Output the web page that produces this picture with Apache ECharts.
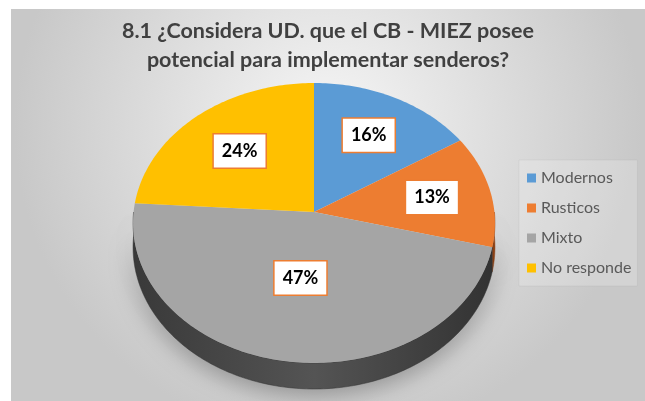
<!DOCTYPE html>
<html>
<head>
<meta charset="utf-8">
<script src="https://cdn.jsdelivr.net/npm/echarts@6/dist/echarts.min.js"></script>
<style>
  html, body { margin: 0; padding: 0; background: #fff; }
  #chart { width: 645px; height: 401px; }
</style>
</head>
<body>
<div id="chart"></div>
<script>
    // datos del grafico
    const categories = ['Modernos', 'Rusticos', 'Mixto', 'No responde'];
    const values = [16, 13, 47, 24];
    const colors = ['#5B9BD5', '#ED7D31', '#A5A5A5', '#FFC000'];
    const sideColors = [
        ['#2F6A9E', '#3F7DB5', '#2A6090'],
        ['#96461A', '#B0561F', '#8E4216'],
        ['#3A3A3A', '#555555', '#333333'],
        ['#A07800', '#B98B00', '#977000']
    ];

    // pastel inclinado (perspectiva simple)
    const CX = 314, CY = 212, RX = 180.4, RY = 139.1, PERSP = 0.0785, DEPTH = 24;
    const FONT = 'Lato, "Open Sans", sans-serif';

    const total = values.reduce((a, b) => a + b, 0);
    let angles = [], a = 90;
    values.forEach(v => {
        let b = a - 360 * v / total;
        angles.push([a, b]);
        a = b;
    });

    function proj(deg, f, drop) {
        let t = deg * Math.PI / 180;
        let k = 1 + PERSP * f * Math.sin(t);
        return [CX + RX * f * Math.cos(t) / k, CY - RY * f * Math.sin(t) / k + (drop || 0) / k];
    }

    function arc(from, to, drop) {
        let pts = [], n = Math.max(2, Math.ceil(Math.abs(from - to)));
        for (let i = 0; i <= n; i++) {
            pts.push(proj(from + (to - from) * i / n, 1, drop));
        }
        return pts;
    }

    function renderItem(params, api) {
        let i = params.dataIndex;
        let [a0, a1] = angles[i];
        let children = [];

        // lado visible (mitad delantera)
        let hi = Math.min(a0, 0), lo = Math.max(a1, -180);
        if (hi > lo) {
            let pts = arc(hi, lo, 0).concat(arc(lo, hi, DEPTH));
            let sc = sideColors[i];
            children.push({
                type: 'polygon',
                z2: 1,
                shape: { points: pts },
                style: {
                    fill: new echarts.graphic.LinearGradient(133, 0, 495, 0, [
                        { offset: 0, color: sc[0] },
                        { offset: 0.5, color: sc[1] },
                        { offset: 1, color: sc[2] }
                    ], true),
                    stroke: sc[2],
                    lineWidth: 0.5,
                    shadowBlur: 24,
                    shadowColor: 'rgba(0,0,0,0.35)',
                    shadowOffsetY: 4
                }
            });
        }

        // cara superior
        children.push({
            type: 'polygon',
            z2: 5,
            shape: { points: [[CX, CY]].concat(arc(a0, a1, 0)) },
            style: { fill: colors[i] }
        });

        // etiqueta en el centroide del sector
        let mid = (a0 + a1) / 2;
        let half = Math.abs(a0 - a1) / 2 * Math.PI / 180;
        let f = 1.03 * 2 * Math.sin(half) / (3 * half);
        let p = proj(mid, f, 0);
        children.push({
            type: 'text',
            z2: 10,
            style: {
                x: p[0], y: p[1],
                text: Math.round(api.value(0) / total * 100) + '%',
                align: 'center',
                verticalAlign: 'middle',
                fill: '#000',
                font: 'bold 18px ' + FONT,
                backgroundColor: '#fff',
                borderColor: '#ED7D31',
                borderWidth: 1.5,
                padding: [8, 8, 7, 8]
            }
        });

        return { type: 'group', children: children };
    }

    let chart = echarts.init(document.getElementById('chart'));
    chart.setOption({
        animation: false,
        backgroundColor: '#fff',
        color: colors,
        graphic: [{
            type: 'rect',
            z: -10,
            shape: { x: 11, y: 9, width: 634, height: 392 },
            style: {
                fill: new echarts.graphic.RadialGradient(0.5, 0.3, 0.8, [
                    { offset: 0, color: '#f6f6f6' },
                    { offset: 1, color: '#c8c8c8' }
                ])
            }
        }],
        title: {
            text: '8.1 ¿Considera UD. que el CB - MIEZ posee\npotencial para implementar senderos?',
            left: 323,
            textAlign: 'center',
            top: 12,
            textStyle: {
                fontFamily: FONT,
                fontSize: 21.5,
                fontWeight: 'bold',
                color: '#404040',
                lineHeight: 29
            }
        },
        legend: {
            orient: 'vertical',
            left: 519,
            top: 160,
            padding: [10, 6, 10, 8],
            itemGap: 14,
            itemWidth: 9,
            itemHeight: 9,
            icon: 'rect',
            selectedMode: false,
            backgroundColor: 'rgba(255,255,255,0.2)',
            borderColor: 'rgba(0,0,0,0.04)',
            borderWidth: 1,
            data: categories,
            textStyle: { fontFamily: FONT, fontSize: 16, color: '#595959' }
        },
        series: [
            {
                // solo para la leyenda
                type: 'pie',
                radius: 0,
                center: [-50, -50],
                silent: true,
                label: { show: false },
                data: categories.map((c, i) => ({ name: c, value: values[i] }))
            },
            {
                type: 'custom',
                coordinateSystem: 'none',
                renderItem: renderItem,
                data: values.map(v => [v])
            }
        ]
    });
</script>
</body>
</html>
